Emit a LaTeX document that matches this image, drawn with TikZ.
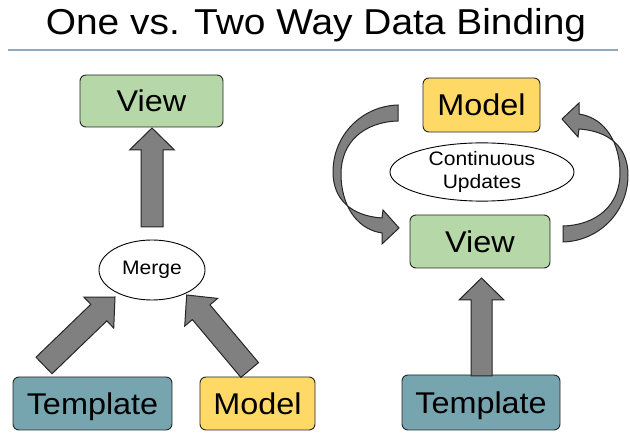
\documentclass[tikz,border=0pt]{standalone}
\usepackage{fontspec}
\setmainfont[FakeStretch=1.08]{Liberation Sans}
\usetikzlibrary{calc,shapes.geometric}
\definecolor{boxgreen}{HTML}{B6D7A8}
\definecolor{boxyellow}{HTML}{FFD966}
\definecolor{boxteal}{HTML}{76A5AF}
\definecolor{arrowgray}{HTML}{808080}
\definecolor{rulecol}{HTML}{8FAABE}
% block arrow: start, end, half shaft width, half head width, head length
\newcommand\blockarr[5]{%
  \coordinate (hb) at ($(#2)!#5!(#1)$);
  \draw[barrow] ($(#1)!#3!90:(#2)$) -- ($(hb)!#3!90:(#2)$) -- ($(hb)!#4!90:(#2)$)
    -- (#2) -- ($(hb)!#4!-90:(#2)$) -- ($(hb)!#3!-90:(#2)$) -- ($(#1)!#3!-90:(#2)$) -- cycle;}
\newcommand\curvedarr{%
  \draw[barrow] (398,105) .. controls (362,106) and (333,135) .. (333,172)
    .. controls (333,200) and (352,216) .. (382,218)
    -- (383,210) -- (399,228) -- (382,244) -- (382,233)
    .. controls (355,229) and (341,203) .. (341,174)
    .. controls (341,142) and (364,122) .. (398,121) -- cycle;}
\begin{document}
\begin{tikzpicture}[x=1pt,y=-1pt,
  box/.style={draw=black!85, line width=0.9pt, rounded corners=6pt, inner sep=0pt,
    font=\fontsize{30}{34}\selectfont, text height=21.5pt, text depth=0pt},
  oval/.style={ellipse, draw=black, line width=0.9pt, fill=white, inner sep=0pt,
    font=\fontsize{19.5}{24}\selectfont, align=center},
  barrow/.style={fill=arrowgray, draw=black!85, line width=1pt, line join=miter}]
\useasboundingbox (0,0) rectangle (630,438);
\fill[white] (0,0) rectangle (630,438);
% title
\node[font=\fontsize{36}{40}\selectfont, anchor=base, inner sep=0pt] (title) at (316,35) {One vs. Two Way Data Binding};
\coordinate (rl) at (8,50);
\coordinate (rr) at (618,50);
\draw[rulecol, line width=1.2pt] (rl) -- (rr);
% left: one way
\node[box, fill=boxgreen, minimum width=143pt, minimum height=52pt] (lview) at (151.5,101) {View};
\node[oval, minimum width=106pt, minimum height=60pt] (merge) at (152,270) {Merge};
\node[box, fill=boxteal, minimum width=159pt, minimum height=53pt] (ltemp) at (92.5,403.5) {Template};
\node[box, fill=boxyellow, minimum width=115pt, minimum height=53pt] (lmodel) at (257.5,403.5) {Model};
\coordinate (a1s) at (152,227);
\coordinate (a1e) at (152,128);
\blockarr{a1s}{a1e}{11pt}{22.5pt}{22pt}
\coordinate (a2s) at (44,365.5);
\coordinate (a2e) at (115,297);
\blockarr{a2s}{a2e}{11.5pt}{21.5pt}{22.5pt}
\coordinate (a3s) at (249.7,370);
\coordinate (a3e) at (186.7,295);
\blockarr{a3s}{a3e}{11.5pt}{21.5pt}{22.5pt}
% right: two way
\node[box, fill=boxyellow, minimum width=117pt, minimum height=54pt] (rmodel) at (481.5,105) {Model};
\node[oval, minimum width=184pt, minimum height=58pt] (cu) at (482,172) {Continuous\\[-1pt]Updates};
\node[box, fill=boxgreen, minimum width=140pt, minimum height=53pt] (rview) at (480,241.5) {View};
\node[box, fill=boxteal, minimum width=158pt, minimum height=55pt] (rtemp) at (481,402.5) {Template};
\coordinate (a4s) at (481.5,376);
\coordinate (a4e) at (481.5,278);
\blockarr{a4s}{a4e}{10.5pt}{22.5pt}{22pt}
\curvedarr
\begin{scope}[rotate around={180:(480.5,173.5)}]
\curvedarr
\end{scope}
\end{tikzpicture}
\end{document}
